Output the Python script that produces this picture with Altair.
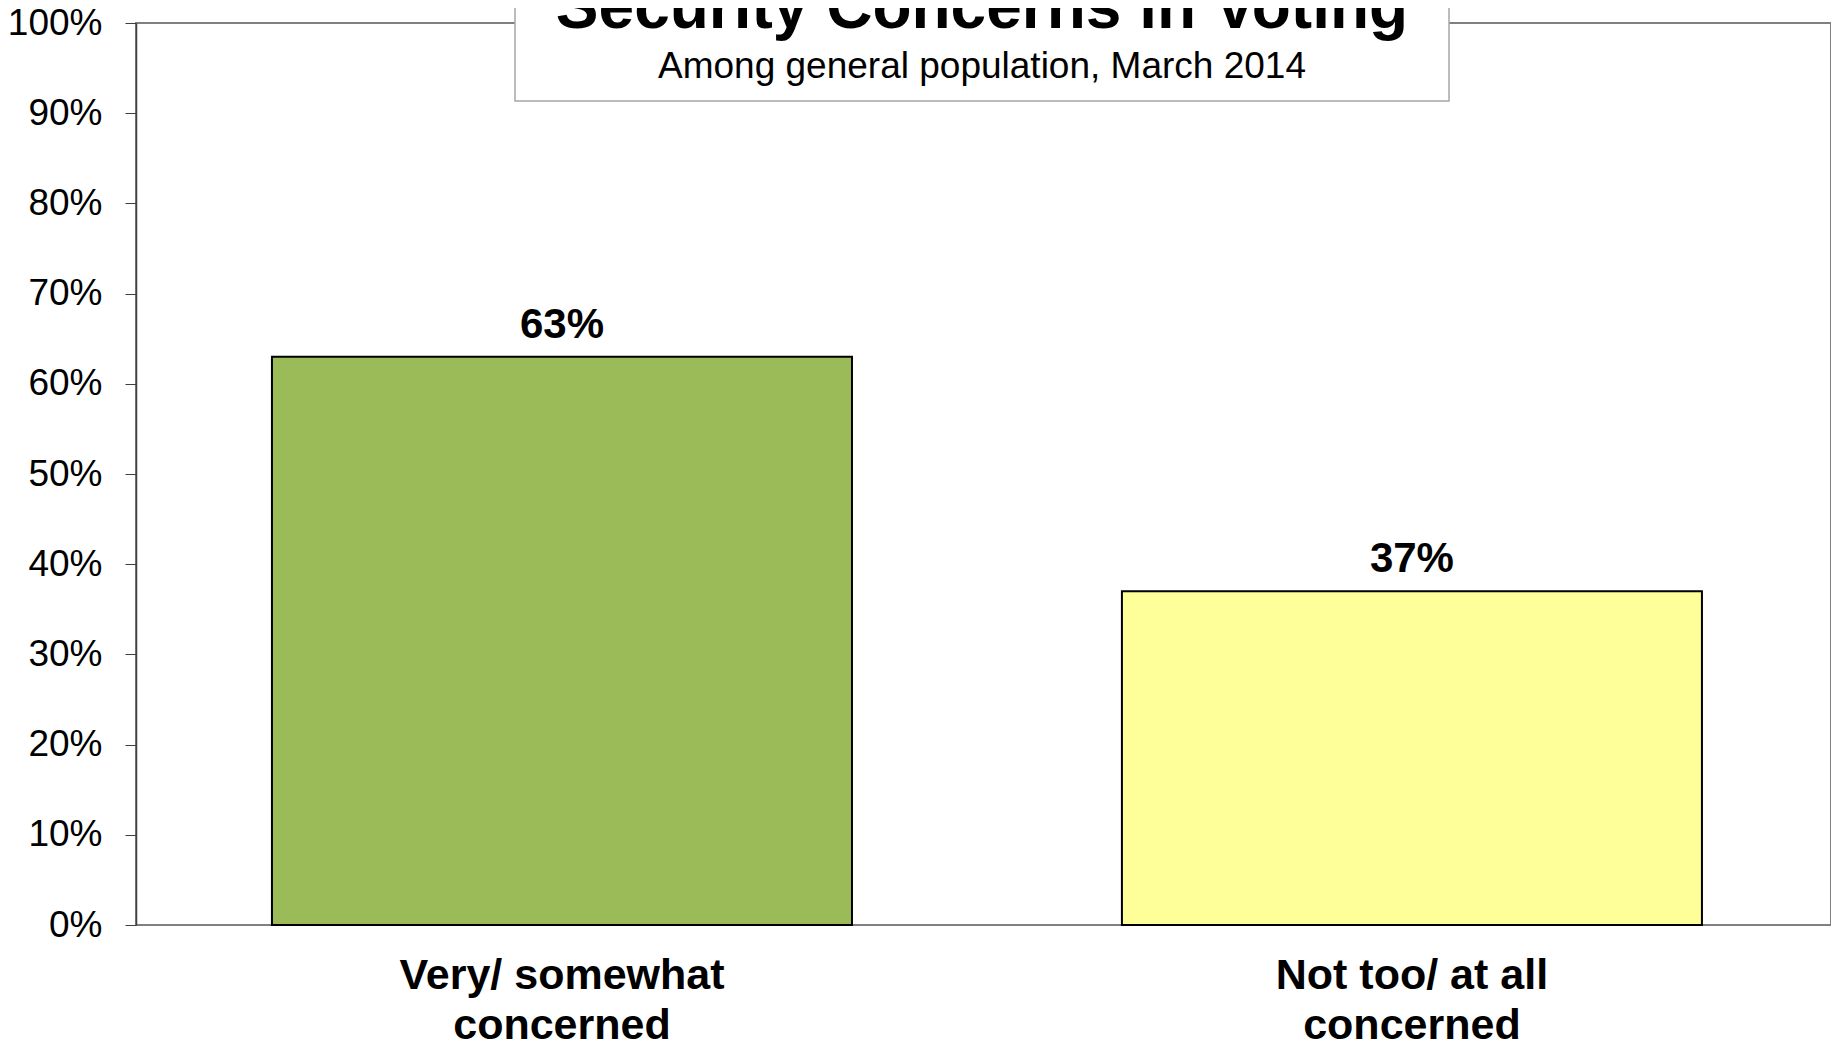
import altair as alt
import pandas as pd

CATEGORIES = ["Very/ somewhat concerned", "Not too/ at all concerned"]
VALUES = [0.63, 0.37]
COLORS = ["#9BBB59", "#FFFF99"]
TITLE = "Security Concerns in Voting"
SUBTITLE = "Among general population, March 2014"
Y_TICKS = [0.0, 0.1, 0.2, 0.3, 0.4, 0.5, 0.6, 0.7, 0.8, 0.9, 1.0]

FONT = "Liberation Sans"

df = pd.DataFrame({"category": CATEGORIES, "value": VALUES, "color": COLORS})
title_df = pd.DataFrame({"title": [TITLE], "subtitle": [SUBTITLE]})

x_enc = alt.X(
    "category:N",
    sort=CATEGORIES,
    title=None,
    scale=alt.Scale(paddingInner=0.3176, paddingOuter=0.1559, align=0.513),
    axis=alt.Axis(
        labelAngle=0,
        ticks=False,
        domain=False,
        labelFont=FONT,
        labelFontSize=43,
        labelFontWeight="bold",
        labelColor="black",
        labelPadding=63,
        labelBaseline="alphabetic",
        labelLineHeight=50,
        labelLimit=1000,
        labelExpr="[replace(datum.value, ' concerned', ''), 'concerned']",
    ),
)

y_enc = alt.Y(
    "value:Q",
    scale=alt.Scale(domain=[0, 1]),
    axis=alt.Axis(
        values=Y_TICKS,
        format=".0%",
        grid=False,
        title=None,
        labelFont=FONT,
        labelFontSize=37,
        labelColor="black",
        labelPadding=23,
        tickSize=11,
        tickColor="#404040",
        tickWidth=1,
        domainColor="#404040",
        domainWidth=1.5,
    ),
)

bars = alt.Chart(df).mark_bar(stroke="black", strokeWidth=2).encode(
    x=x_enc,
    y=y_enc,
    color=alt.Color("color:N", scale=None, legend=None),
)

labels = alt.Chart(df).mark_text(
    dy=-19, baseline="alphabetic", align="center",
    fontSize=42, fontWeight="bold", font=FONT, color="black",
).encode(
    x=alt.X("category:N", sort=CATEGORIES),
    y=alt.Y("value:Q"),
    text=alt.Text("value:Q", format=".0%"),
)

box = alt.Chart(title_df).mark_rect(
    fill="white", stroke="#A6A6A6", strokeWidth=1.5
).encode(
    x=alt.value(379), x2=alt.value(1313), y=alt.value(-30), y2=alt.value(78)
)

title_text = alt.Chart(title_df).mark_text(
    fontSize=64, fontWeight="bold", font=FONT, color="black",
    align="center", baseline="alphabetic",
).encode(x=alt.value(846), y=alt.value(5), text="title:N")

subtitle_text = alt.Chart(title_df).mark_text(
    fontSize=37, font=FONT, color="black",
    align="center", baseline="alphabetic",
).encode(x=alt.value(846), y=alt.value(55), text="subtitle:N")

chart = alt.layer(bars, labels, box, title_text, subtitle_text).properties(
    width=1695,
    height=902,
    autosize=alt.AutoSizeParams(type="none"),
    padding={"left": 128, "top": 15, "right": 0, "bottom": 118},
).configure_view(stroke="#808080", strokeWidth=2)

chart.save("out.html", embed_options={"renderer": "svg", "actions": False})
